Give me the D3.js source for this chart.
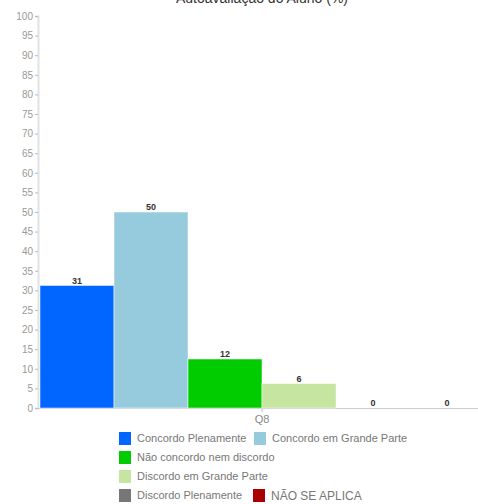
<!DOCTYPE html>
<html>
<head>
<meta charset="utf-8">
<style>
  body { margin: 0; background: #fff; }
  text { font-family: "Liberation Sans", Arial, sans-serif; }
</style>
</head>
<body>
<script src="https://cdn.jsdelivr.net/npm/d3@7"></script>
<div id="chart"></div>
<script>
  // data
  var groups = ["Q8"];
  var categories = ["Concordo Plenamente", "Concordo em Grande Parte", "Não concordo nem discordo",
                    "Discordo em Grande Parte", "Discordo Plenamente", "NÃO SE APLICA"];
  var values = [31.25, 50, 12.5, 6.25, 0, 0];
  var colors = ["#0066ff", "#96cbdd", "#00cc00", "#c5e5a0", "#777777", "#aa0000"];
  var yTicks = d3.range(0, 101, 5);

  var W = 478, H = 504;
  var margin = {top: 16, right: -6, bottom: 96, left: 40},
      width = W - margin.left - margin.right,
      height = H - margin.top - margin.bottom;

  var svg = d3.select("#chart").append("svg")
      .attr("width", W)
      .attr("height", H);

  // title (cut at the top like the original)
  svg.append("text")
    .attr("x", 262)
    .attr("y", 3)
    .attr("text-anchor", "middle")
    .style("font-size", "14px")
    .attr("fill", "#333")
    .text("Autoavaliação do Aluno (%)");

  var g = svg.append("g")
      .attr("transform", "translate(" + margin.left + "," + margin.top + ")");

  var x0 = d3.scaleBand().domain(groups).range([0, width]);
  var x1 = d3.scaleBand().domain(categories).range([0, x0.bandwidth()]);
  var y = d3.scaleLinear().domain([0, 100]).range([height, 0]);

  // y axis
  var yAxis = g.append("g")
    .attr("transform", "translate(-2,0)")
    .call(d3.axisLeft(y).tickValues(yTicks).tickSize(3).tickPadding(2));
  yAxis.select(".domain").attr("stroke", "#e2e2e2").attr("stroke-width", 2);
  yAxis.selectAll(".tick line").attr("stroke", "#bbb");
  yAxis.selectAll(".tick text").attr("fill", "#999").style("font-size", "10px")
    .style("font-family", "'Liberation Sans', Arial, sans-serif");

  // x axis
  var xAxis = g.append("g")
    .attr("transform", "translate(0," + height + ")")
    .call(d3.axisBottom(x0).tickSize(4).tickPadding(3));
  xAxis.select(".domain").attr("stroke", "#ccc").attr("d", "M-2,0.5H" + (W - margin.left));
  xAxis.selectAll(".tick line").attr("stroke", "#bbb");
  xAxis.selectAll(".tick text").attr("fill", "#888").style("font-size", "11px")
    .style("font-family", "'Liberation Sans', Arial, sans-serif");

  // bars
  var grp = g.selectAll(".grp").data(groups).enter().append("g")
    .attr("transform", function(d) { return "translate(" + x0(d) + ",0)"; });

  grp.selectAll("rect").data(categories).enter().append("rect")
    .attr("x", function(d) { return x1(d); })
    .attr("y", function(d, i) { return y(values[i]); })
    .attr("width", x1.bandwidth())
    .attr("height", function(d, i) { return height - y(values[i]); })
    .attr("fill", function(d, i) { return colors[i]; })
    .attr("stroke", "rgba(255,255,255,0.5)")
    .attr("stroke-width", 1);

  grp.selectAll(".lbl").data(categories).enter().append("text")
    .attr("x", function(d) { return x1(d) + x1.bandwidth() / 2; })
    .attr("y", function(d, i) { return y(values[i]) - 2; })
    .attr("text-anchor", "middle")
    .attr("fill", "#333")
    .style("font-size", "9px")
    .style("font-weight", "bold")
    .text(function(d, i) { return Math.floor(values[i]); });

  // legend
  var legendPos = [[119, 438], [254, 438], [119, 457], [119, 476], [119, 495], [253, 495]];
  var leg = svg.selectAll(".leg").data(categories).enter().append("g")
    .attr("transform", function(d, i) { return "translate(" + legendPos[i][0] + "," + legendPos[i][1] + ")"; });
  leg.append("rect")
    .attr("x", 0).attr("y", -6)
    .attr("width", 12).attr("height", 13)
    .attr("fill", function(d, i) { return colors[i]; });
  leg.append("text")
    .attr("x", 18)
    .attr("y", function(d, i) { return i === 5 ? 5 : 4; })
    .attr("fill", "#777")
    .style("font-size", function(d, i) { return i === 5 ? "12px" : "11px"; })
    .text(function(d) { return d; });
</script>
</body>
</html>
